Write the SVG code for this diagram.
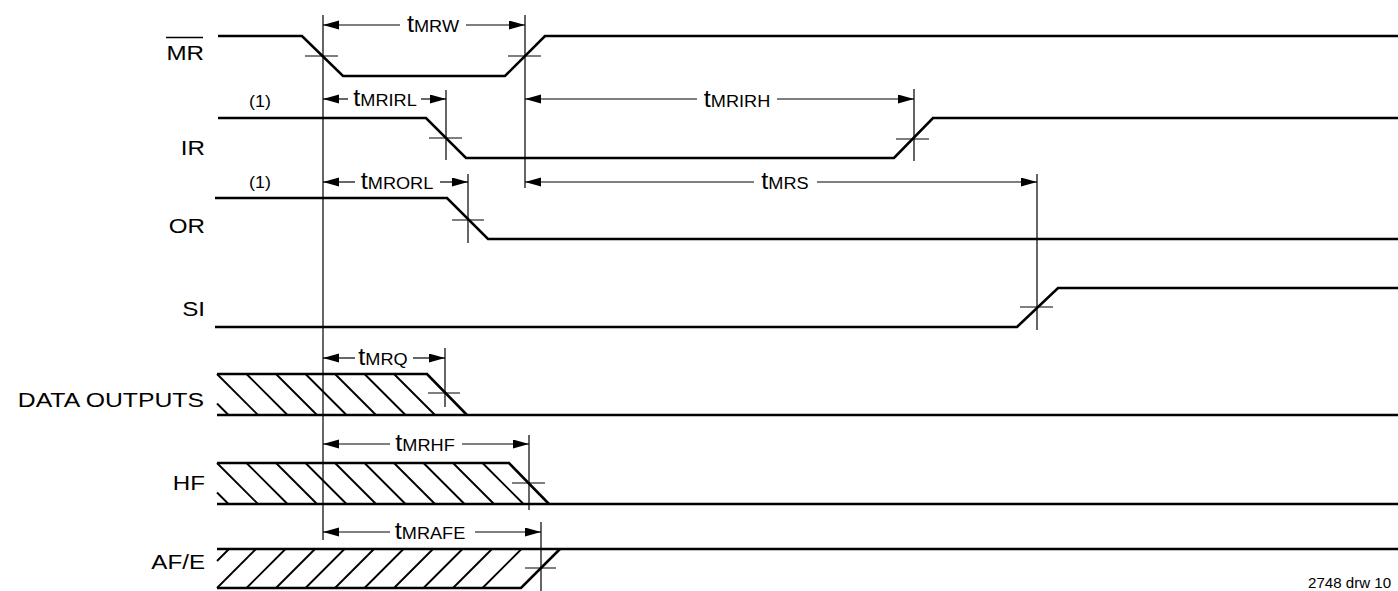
<svg xmlns="http://www.w3.org/2000/svg" width="1398" height="591" viewBox="0 0 1398 591">
<style>
text{font-family:"Liberation Sans",Arial,sans-serif;fill:#000}
.lbl{font-size:21px;text-anchor:end}
.tl{text-anchor:middle}
.tt{font-size:23px}
.ts{font-size:16.5px}
.sig{stroke:#000;stroke-width:2.6;fill:none;stroke-linejoin:miter;stroke-linecap:butt}
.hat{stroke:#000;stroke-width:1.9;fill:none}
.ref{stroke:#000;stroke-width:1.2;fill:none}
.dim{stroke:#000;stroke-width:1.2;fill:none;marker-end:url(#ah)}
.note{font-size:17px;text-anchor:middle}
</style>
<defs>
<marker id="ah" markerUnits="userSpaceOnUse" markerWidth="17" markerHeight="10" refX="16" refY="4.5" orient="auto">
<path d="M0,0 L16,4.5 L0,9 z" fill="#000"/>
</marker>
</defs>
<rect width="1398" height="591" fill="#fff"/>

<g id="MR">
<text class="lbl" transform="translate(204,60) scale(1.15,1)">MR</text>
<line x1="166" y1="37.5" x2="203" y2="37.5" stroke="#000" stroke-width="1.5"/>
<path class="sig" d="M218,36 H302 L343,76 H505 L545,36 H1398"/>
</g>
<g id="IR">
<text class="lbl" transform="translate(205,155) scale(1.15,1)">IR</text>
<text class="note" transform="translate(260,107) scale(1.05,1)">(1)</text>
<path class="sig" d="M218,118 H426 L466,158 H894 L933,118 H1398"/>
</g>
<g id="OR">
<text class="lbl" transform="translate(205,233) scale(1.15,1)">OR</text>
<text class="note" transform="translate(260,188) scale(1.05,1)">(1)</text>
<path class="sig" d="M215,198 H447 L488,239 H1398"/>
</g>
<g id="SI">
<text class="lbl" transform="translate(205,316) scale(1.15,1)">SI</text>
<path class="sig" d="M215,327 H1017 L1058,288 H1398"/>
</g>
<g id="DATA_OUTPUTS">
<text class="lbl" transform="translate(204,407) scale(1.18,1)">DATA OUTPUTS</text>
<path class="sig" d="M217,374 H427 L467,415"/>
<path class="sig" d="M217,415 H1398"/>
<path class="hat" d="M217,403.5 L228.5,415 M217,374 L258,415 M246.5,374 L287.5,415 M276,374 L317,415 M305.5,374 L346.5,415 M335,374 L376,415 M364.5,374 L405.5,415 M394,374 L435,415"/>
</g>
<g id="HF">
<text class="lbl" transform="translate(205,490) scale(1.15,1)">HF</text>
<path class="sig" d="M217,463 H509 L549,504"/>
<path class="sig" d="M217,504 H1398"/>
<path class="hat" d="M217,492.5 L228.5,504 M217,463 L258,504 M246.5,463 L287.5,504 M276,463 L317,504 M305.5,463 L346.5,504 M335,463 L376,504 M364.5,463 L405.5,504 M394,463 L435,504 M423.5,463 L464.5,504 M453,463 L494,504 M482.5,463 L523.5,504"/>
</g>
<g id="AF_E">
<text class="lbl" transform="translate(205,569) scale(1.15,1)">AF/E</text>
<path class="sig" d="M217,549 H1398"/>
<path class="sig" d="M217,588 H521 L560,549"/>
<path class="hat" d="M217,561 L229,549 M217,588 L256,549 M246.5,588 L285.5,549 M276,588 L315,549 M305.5,588 L344.5,549 M335,588 L374,549 M364.5,588 L403.5,549 M394,588 L433,549 M423.5,588 L462.5,549 M453,588 L492,549 M482.5,588 L521.5,549"/>
</g>

<g id="connectors">
<path class="ref" d="M323,15 V540 M525,15 V188 M446,90 V160 M914,89 V161 M468,174 V243 M1037,174 V330 M445,348 V407 M529,435 V510 M541,522 V591"/>
<path class="ref" d="M305,56 H338 M508,56 H541 M429,138 H462 M896,139 H929 M452,220 H484 M1020,307 H1053 M428,393 H460 M512,483 H545 M525,568 H556"/>
<line class="dim" x1="400" y1="25" x2="323" y2="25"/><line class="dim" x1="466" y1="25" x2="525" y2="25"/>
<line class="dim" x1="348" y1="99" x2="323" y2="99"/><line class="dim" x1="421" y1="99" x2="446" y2="99"/>
<line class="dim" x1="697" y1="99" x2="525" y2="99"/><line class="dim" x1="777" y1="99" x2="914" y2="99"/>
<line class="dim" x1="355" y1="182" x2="323" y2="182"/><line class="dim" x1="440" y1="182" x2="468" y2="182"/>
<line class="dim" x1="754" y1="182" x2="525" y2="182"/><line class="dim" x1="817" y1="182" x2="1037" y2="182"/>
<line class="dim" x1="355" y1="358" x2="323" y2="358"/><line class="dim" x1="413" y1="358" x2="445" y2="358"/>
<line class="dim" x1="390" y1="444" x2="323" y2="444"/><line class="dim" x1="462" y1="444" x2="529" y2="444"/>
<line class="dim" x1="390" y1="532" x2="323" y2="532"/><line class="dim" x1="475" y1="532" x2="541" y2="532"/>
<text class="tl" transform="translate(433,32) scale(1.1,1)"><tspan class="tt">t</tspan><tspan class="ts">MRW</tspan></text>
<text class="tl" transform="translate(385,106) scale(1.1,1)"><tspan class="tt">t</tspan><tspan class="ts">MRIRL</tspan></text>
<text class="tl" transform="translate(737,107) scale(1.1,1)"><tspan class="tt">t</tspan><tspan class="ts">MRIRH</tspan></text>
<text class="tl" transform="translate(397,189) scale(1.1,1)"><tspan class="tt">t</tspan><tspan class="ts">MRORL</tspan></text>
<text class="tl" transform="translate(785,189) scale(1.1,1)"><tspan class="tt">t</tspan><tspan class="ts">MRS</tspan></text>
<text class="tl" transform="translate(383,365) scale(1.1,1)"><tspan class="tt">t</tspan><tspan class="ts">MRQ</tspan></text>
<text class="tl" transform="translate(425,451) scale(1.1,1)"><tspan class="tt">t</tspan><tspan class="ts">MRHF</tspan></text>
<text class="tl" transform="translate(430,539) scale(1.1,1)"><tspan class="tt">t</tspan><tspan class="ts">MRAFE</tspan></text>
</g>
<text transform="translate(1308,588) scale(1.08,1)" style="font-size:14px">2748 drw 10</text>
</svg>
